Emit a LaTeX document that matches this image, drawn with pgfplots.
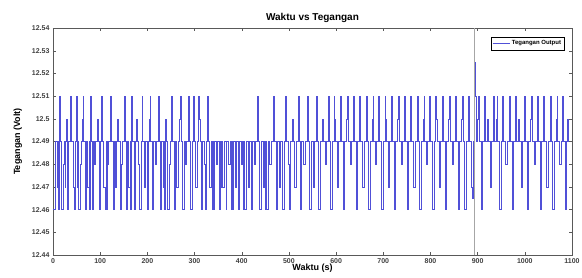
\documentclass[border=0pt]{standalone}
\usepackage{pgfplots}
\pgfplotsset{compat=1.18}
\usepackage{pgfplotstable}
\usepackage{fontspec}
\setmainfont{Liberation Sans}
\pgfplotstableread{
t v
0 12.46
5 12.49
8 12.47
10 12.49
12 12.46
13 12.49
14 12.51
16 12.49
18 12.46
21 12.48
23 12.49
25 12.47
26 12.49
27 12.50
29 12.49
31 12.46
33 12.49
36 12.51
38 12.50
39 12.49
42 12.47
44 12.46
46 12.49
49 12.51
51 12.49
52 12.47
53 12.49
54 12.46
57 12.48
59 12.49
62 12.50
63 12.51
65 12.49
68 12.46
70 12.49
73 12.47
76 12.49
77 12.46
78 12.49
79 12.51
80 12.49
83 12.46
86 12.49
88 12.48
90 12.49
93 12.50
95 12.49
98 12.46
100 12.49
103 12.51
105 12.49
107 12.47
110 12.46
112 12.49
114 12.46
115 12.49
116 12.48
118 12.49
121 12.51
123 12.50
124 12.49
127 12.46
129 12.49
132 12.47
134 12.49
137 12.50
139 12.49
142 12.46
145 12.48
147 12.49
150 12.51
152 12.49
155 12.46
157 12.49
160 12.47
163 12.49
164 12.46
165 12.49
166 12.51
168 12.49
171 12.46
174 12.49
176 12.50
178 12.49
181 12.48
183 12.46
186 12.49
189 12.51
190 12.49
193 12.47
196 12.49
199 12.46
201 12.49
204 12.50
206 12.51
207 12.49
210 12.46
213 12.49
216 12.48
219 12.49
222 12.51
224 12.49
227 12.46
230 12.49
233 12.47
235 12.49
236 12.46
237 12.49
238 12.50
240 12.49
243 12.46
246 12.48
248 12.49
251 12.51
253 12.49
256 12.46
259 12.49
262 12.47
265 12.49
268 12.50
270 12.51
271 12.49
274 12.46
277 12.49
280 12.48
283 12.49
286 12.51
288 12.49
291 12.46
294 12.49
297 12.51
299 12.49
302 12.47
305 12.49
308 12.51
310 12.50
311 12.49
314 12.46
317 12.49
320 12.48
322 12.46
324 12.49
327 12.51
329 12.49
332 12.47
335 12.49
337 12.46
338 12.49
339 12.46
341 12.49
345 12.48
348 12.49
352 12.46
355 12.49
357 12.47
358 12.49
359 12.47
362 12.49
366 12.46
368 12.49
372 12.48
375 12.49
377 12.46
378 12.49
379 12.46
382 12.49
386 12.47
389 12.49
393 12.46
395 12.49
399 12.48
402 12.49
404 12.46
405 12.49
406 12.46
409 12.49
413 12.47
416 12.49
420 12.46
422 12.49
426 12.48
429 12.49
433 12.51
435 12.49
438 12.46
441 12.49
445 12.47
448 12.49
450 12.46
451 12.49
452 12.46
455 12.49
459 12.48
462 12.49
466 12.51
468 12.50
469 12.49
472 12.46
475 12.49
479 12.47
482 12.49
486 12.46
489 12.49
493 12.51
495 12.49
498 12.48
500 12.46
503 12.49
507 12.50
509 12.49
512 12.47
515 12.49
519 12.51
521 12.49
524 12.46
527 12.49
531 12.48
534 12.49
538 12.51
540 12.50
541 12.49
544 12.46
547 12.49
551 12.47
554 12.49
558 12.51
560 12.49
563 12.46
566 12.49
570 12.50
572 12.49
576 12.48
579 12.49
583 12.51
585 12.49
588 12.46
591 12.49
595 12.51
597 12.50
598 12.49
602 12.47
605 12.49
609 12.51
611 12.49
615 12.46
618 12.49
622 12.50
624 12.51
625 12.49
629 12.48
632 12.49
636 12.51
638 12.49
642 12.46
645 12.49
649 12.51
651 12.50
652 12.49
656 12.47
659 12.49
663 12.51
665 12.49
669 12.46
672 12.49
676 12.50
678 12.51
679 12.49
683 12.48
686 12.49
690 12.51
692 12.49
696 12.46
699 12.49
703 12.51
705 12.50
706 12.49
710 12.47
713 12.49
717 12.51
719 12.49
723 12.46
726 12.49
730 12.50
732 12.51
733 12.49
737 12.48
740 12.49
744 12.51
746 12.49
750 12.46
753 12.49
757 12.51
759 12.50
760 12.49
764 12.47
767 12.49
771 12.51
773 12.49
777 12.46
780 12.49
784 12.50
786 12.51
787 12.49
791 12.48
794 12.49
798 12.51
800 12.49
804 12.46
807 12.49
811 12.51
813 12.50
814 12.49
818 12.47
821 12.49
825 12.51
827 12.49
831 12.46
834 12.49
838 12.50
840 12.51
841 12.49
845 12.48
848 12.49
852 12.51
854 12.49
858 12.46
861 12.49
865 12.50
867 12.51
869 12.49
872 12.46
875 12.49
879 12.50
881 12.51
883 12.49
887 12.47
889 12.465
890 12.49
893 12.52
894 12.525
895 12.51
897 12.49
900 12.50
902 12.51
903 12.49
907 12.46
910 12.49
914 12.51
916 12.49
920 12.50
922 12.49
926 12.47
929 12.49
933 12.51
935 12.49
939 12.50
941 12.51
942 12.49
946 12.46
949 12.49
953 12.51
955 12.49
959 12.48
962 12.49
966 12.51
968 12.50
969 12.49
973 12.46
976 12.49
980 12.51
982 12.49
986 12.50
988 12.49
992 12.47
995 12.49
999 12.51
1001 12.49
1005 12.46
1008 12.49
1012 12.50
1014 12.51
1015 12.49
1019 12.48
1022 12.49
1026 12.51
1028 12.49
1032 12.46
1035 12.49
1039 12.51
1041 12.50
1042 12.49
1046 12.47
1049 12.49
1053 12.51
1055 12.49
1059 12.46
1062 12.49
1066 12.50
1068 12.51
1069 12.49
1073 12.48
1076 12.49
1080 12.51
1082 12.49
1085 12.46
1088 12.49
1090 12.50
1092 12.49
}\datatable
\begin{document}
\begin{tikzpicture}
\useasboundingbox (-53pt,-22pt) rectangle (529pt,255pt);
\begin{axis}[
  scale only axis,
  width=519pt, height=227pt,
  at={(0,0)}, anchor=south west,
  xmin=0, xmax=1100, ymin=12.44, ymax=12.54,
  xtick={0,100,...,1100},
  ytick={12.44,12.45,12.46,12.47,12.48,12.49,12.5,12.51,12.52,12.53,12.54},
  xticklabel style={/pgf/number format/1000 sep={}},
  yticklabel style={/pgf/number format/.cd,fixed,precision=2},
  /pgf/number format/assume math mode=true,
  tick align=inside,
  major tick length=3pt,
  axis line style={gray!70!black, line width=0.5pt},
  tick style={gray!70!black, line width=0.4pt},
  ticklabel style={font=\fontsize{7}{8}\selectfont\bfseries, text=black!75},
  title={Waktu vs Tegangan},
  title style={font=\fontsize{10}{12}\selectfont\bfseries, at={(0.5,1)}, above, yshift=-4pt},
  xlabel={Waktu (s)},
  ylabel={Tegangan (Volt)},
  label style={font=\fontsize{9}{10}\selectfont\bfseries},
  xlabel style={yshift=6pt},
  ylabel style={yshift=3pt},
  legend style={at={(0.986,0.96)}, anchor=north east, font=\fontsize{6}{7}\selectfont\bfseries,
    draw=black, line width=0.4pt, inner sep=1.5pt, row sep=-1pt},
  legend image post style={line width=0.3pt},
  legend cell align=left,
]
\addplot[const plot, color={rgb,255:red,80;green,80;blue,215}, line width=0.35pt] table[x=t,y=v] {\datatable};
\addlegendentry{Tegangan Output}
\addplot[gray!70, line width=0.6pt, forget plot] coordinates {(892,12.44) (892,12.54)};
\end{axis}
\end{tikzpicture}
\end{document}
